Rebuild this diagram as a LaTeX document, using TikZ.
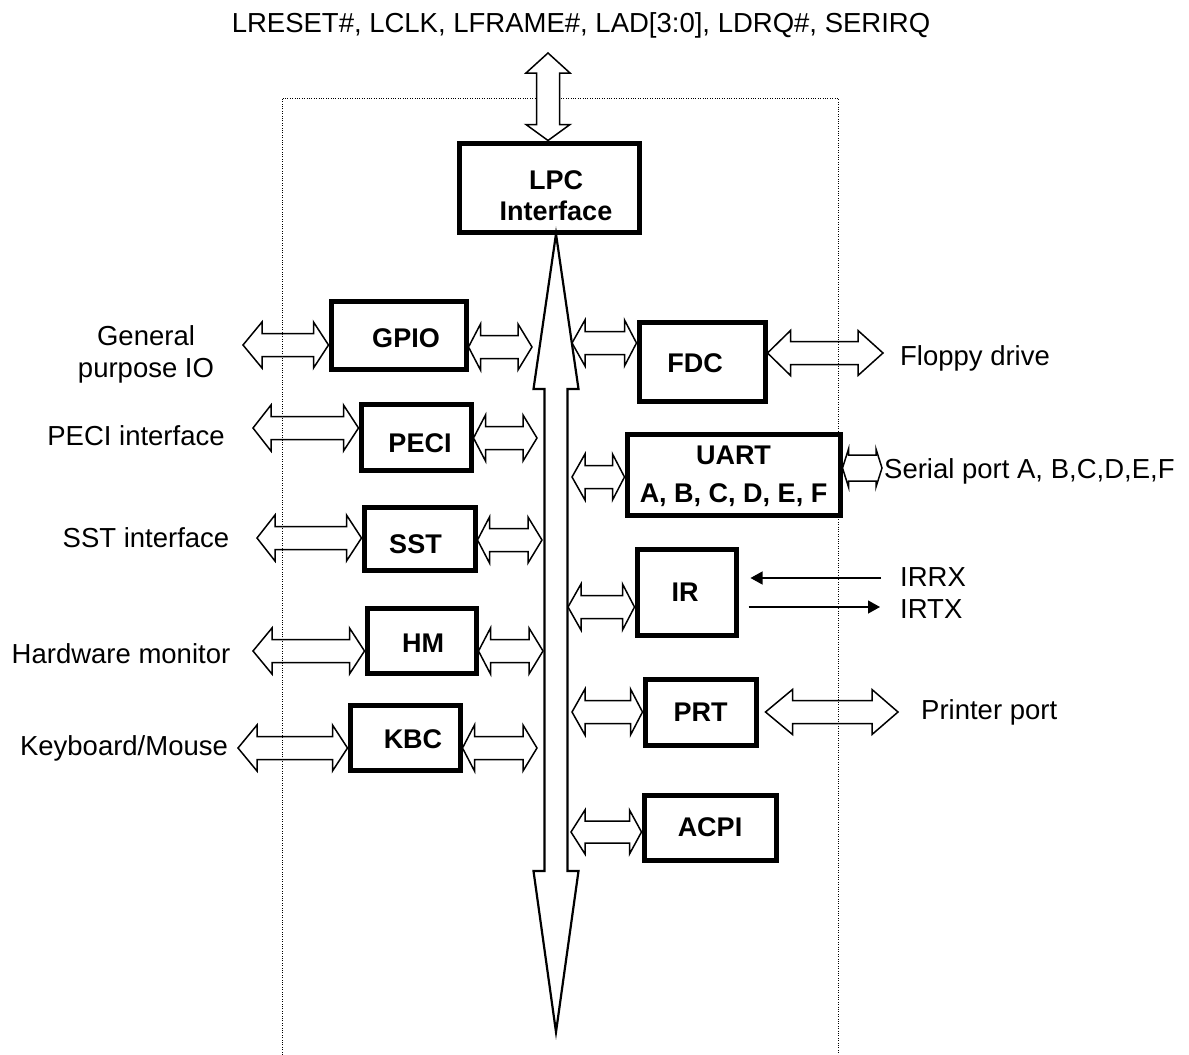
\documentclass[tikz,border=0pt]{standalone}
\usepackage{fontspec}
\setmainfont{Liberation Sans}
\usetikzlibrary{calc,arrows.meta}
% horizontal hollow double arrow: #2 left tip, #3 right tip, #4/#5 head lengths, #6 head half-width, #7 shaft half-width
\newcommand\harr[7][]{%
  \draw[barrow,#1] let \p1=#2, \p2=#3 in
   (\x1,\y1) -- (\x1+#4pt,\y1+#6pt) -- (\x1+#4pt,\y1+#7pt) -- (\x2-#5pt,\y1+#7pt)
   -- (\x2-#5pt,\y1+#6pt) -- (\x2,\y1) -- (\x2-#5pt,\y1-#6pt) -- (\x2-#5pt,\y1-#7pt)
   -- (\x1+#4pt,\y1-#7pt) -- (\x1+#4pt,\y1-#6pt) -- cycle;}
% vertical hollow double arrow: #2 top tip, #3 bottom tip
\newcommand\varr[7][]{%
  \draw[barrow,#1] let \p1=#2, \p2=#3 in
   (\x1,\y1) -- (\x1+#6pt,\y1-#4pt) -- (\x1+#7pt,\y1-#4pt) -- (\x1+#7pt,\y2+#5pt)
   -- (\x1+#6pt,\y2+#5pt) -- (\x1,\y2) -- (\x1-#6pt,\y2+#5pt) -- (\x1-#7pt,\y2+#5pt)
   -- (\x1-#7pt,\y1-#4pt) -- (\x1-#6pt,\y1-#4pt) -- cycle;}
\tikzset{
  box/.style={draw, line width=5pt, inner sep=0pt, fill=white},
  lbl/.style={font=\fontsize{27}{31}\selectfont\bfseries, align=center, inner sep=0pt},
  txt/.style={font=\fontsize{27.5}{32}\selectfont, inner sep=0pt},
  barrow/.style={line width=1.5pt, line join=miter},
  busline/.style={line width=2.2pt, line join=miter},
  sig/.style={line width=1.2pt, -{Triangle[length=12pt,width=13pt]}},
  frame/.style={line width=0.9pt, dash pattern=on 1pt off 1.4pt}
}
\begin{document}
\begin{tikzpicture}[x=1pt,y=-1pt]
\useasboundingbox (0,0) rectangle (1189,1055);
% dotted chip outline
\draw[frame] (282,1055) -- (282,98) -- (838,98) -- (838,1055);

% blocks
\node[box, minimum width=180pt, minimum height=89pt, label={[lbl,xshift=7pt,yshift=-8pt]center:{LPC\\Interface}}] (lpc) at (549,187.5) {};
\node[box, minimum width=135pt, minimum height=68pt, label={[lbl,xshift=7.5pt,yshift=-3pt]center:GPIO}] (gpio) at (398.5,335) {};
\node[box, minimum width=110pt, minimum height=66pt, label={[lbl,xshift=4pt,yshift=-6pt]center:PECI}] (peci) at (416,437) {};
\node[box, minimum width=111pt, minimum height=63pt, label={[lbl,xshift=-4pt,yshift=-6pt]center:SST}] (sst) at (419.5,538.5) {};
\node[box, minimum width=109pt, minimum height=65pt, label={[lbl,xshift=1.5pt,yshift=-2.5pt]center:HM}] (hm) at (421.5,640.5) {};
\node[box, minimum width=110pt, minimum height=65pt, label={[lbl,xshift=8pt,yshift=-1.5pt]center:KBC}] (kbc) at (405,737.5) {};
\node[box, minimum width=126pt, minimum height=79pt, label={[lbl,xshift=-7pt,yshift=-1.5pt]center:FDC}] (fdc) at (702,361.5) {};
\node[box, minimum width=213pt, minimum height=81pt, label={[lbl,font=\fontsize{27}{38}\selectfont\bfseries,yshift=-2pt]center:{UART\\A, B, C, D, E, F}}] (uart) at (733.5,474.5) {};
\node[box, minimum width=99pt, minimum height=86pt, label={[lbl,xshift=-1.5pt]center:IR}] (ir) at (686.5,592) {};
\node[box, minimum width=111pt, minimum height=66pt, label={[lbl]center:PRT}] (prt) at (700.5,712) {};
\node[box, minimum width=132pt, minimum height=65pt, label={[lbl]center:ACPI}] (acpi) at (710,827.5) {};

% external texts
\node[txt, anchor=base] (lpcsig) at (581,32) {LRESET\#, LCLK, LFRAME\#, LAD[3:0], LDRQ\#, SERIRQ};
\node[txt, anchor=north, align=center] (gpiotxt) at (146,325) {General\\purpose IO};
\node[txt, anchor=base] (pecitxt) at (136,445) {PECI interface};
\node[txt, anchor=base] (ssttxt) at (146,547) {SST interface};
\node[txt, anchor=base] (hmtxt) at (121,663) {Hardware monitor};
\node[txt, anchor=base] (kbctxt) at (124,755) {Keyboard/Mouse};
\node[txt, anchor=base] (fdctxt) at (975,365) {Floppy drive};
\node[txt, anchor=base west] (uarttxt) at (884,478) {Serial port A, B,C,D,E,F};
\node[txt, anchor=base west] (irrx) at (900,586) {IRRX};
\node[txt, anchor=base west] (irtx) at (900,618) {IRTX};
\node[txt, anchor=base west] (prttxt) at (921,719) {Printer port};

% free ends
\coordinate (lpcTop) at (548,53);
\coordinate (busT) at (556,234);
\coordinate (busB) at (556,1032);
\coordinate (gpioL) at (243,345);  \coordinate (gpioR) at (532,347);
\coordinate (peciL) at (253,428);  \coordinate (peciR) at (537,438);
\coordinate (sstL)  at (257,538);  \coordinate (sstR)  at (542,540);
\coordinate (hmL)   at (253,651);  \coordinate (hmR)   at (543,651);
\coordinate (kbcL)  at (238,748);  \coordinate (kbcR)  at (537,748);
\coordinate (fdcL)  at (572,343);  \coordinate (fdcR)  at (883,353);
\coordinate (uartL) at (572,477);  \coordinate (uartR) at (882,468);
\coordinate (irL)   at (568,607);
\coordinate (prtL)  at (572,712);  \coordinate (prtR)  at (898,712);
\coordinate (acpiL) at (571,832);
\coordinate (rxS) at (881,578);
\coordinate (txE) at (880,607);

% LPC bus to host
\varr[fill=white]{(lpcTop)}{(lpc.north -| lpcTop)}{20}{16}{22}{11.5}
% internal bus
\varr[busline]{(busT)}{(busB)}{155}{161}{22.5}{11.5}

% left side
\harr{(gpioL)}{(gpio.west |- gpioL)}{19}{15}{23}{11.5}
\harr{(gpio.east |- gpioR)}{(gpioR)}{12}{14}{23}{11.5}
\harr{(peciL)}{(peci.west |- peciL)}{18}{15}{23}{11.5}
\harr{(peci.east |- peciR)}{(peciR)}{12}{14}{23}{11.5}
\harr{(sstL)}{(sst.west |- sstL)}{18}{15}{23}{11.5}
\harr{(sst.east |- sstR)}{(sstR)}{12}{14}{23}{11.5}
\harr{(hmL)}{(hm.west |- hmL)}{19}{15}{23}{11.5}
\harr{(hm.east |- hmR)}{(hmR)}{12}{14}{23}{11.5}
\harr{(kbcL)}{(kbc.west |- kbcL)}{19}{15}{23}{11.5}
\harr{(kbc.east |- kbcR)}{(kbcR)}{12}{14}{23}{11.5}

% right side
\harr{(fdcL)}{(fdc.west |- fdcL)}{13}{12}{23}{11.5}
\harr{(fdc.east |- fdcR)}{(fdcR)}{23}{25}{22.5}{11.5}
\harr{(uartL)}{(uart.west |- uartL)}{13}{12}{23}{11.5}
\harr{(uart.east |- uartR)}{(uartR)}{6}{6}{19}{13}
\harr{(irL)}{(ir.west |- irL)}{13}{12}{23}{11.5}
\harr{(prtL)}{(prt.west |- prtL)}{13}{12}{23}{11.5}
\harr{($(prt.east |- prtR)+(7,0)$)}{(prtR)}{27}{26}{22.5}{11.5}
\harr{(acpiL)}{(acpi.west |- acpiL)}{14}{12}{22}{11}

% IR signals
\draw[sig] (rxS) -- ($(ir.east |- rxS)+(12,0)$);
\draw[sig] ($(ir.east |- txE)+(10,0)$) -- (txE);
\end{tikzpicture}
\end{document}
